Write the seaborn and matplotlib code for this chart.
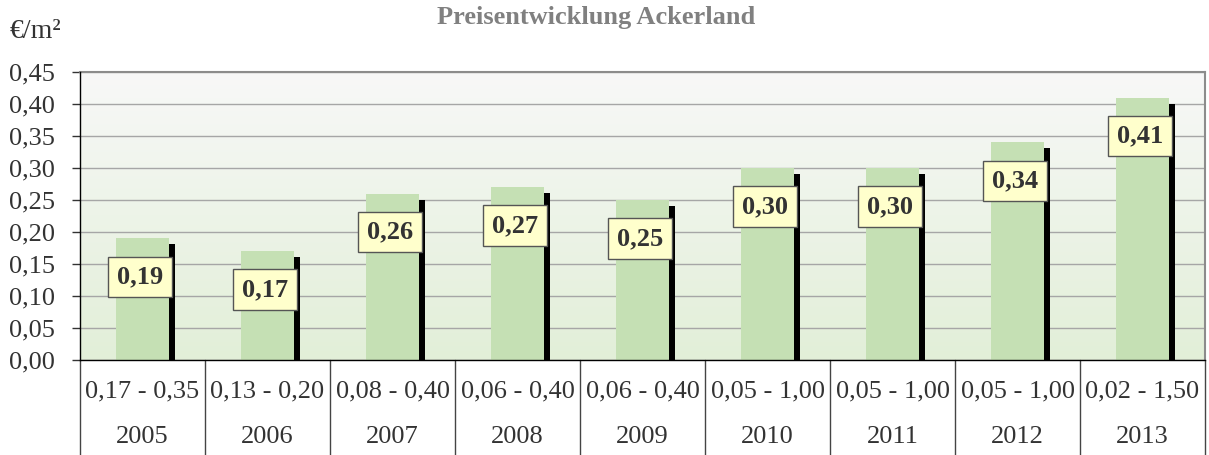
import numpy as np
import pandas as pd
import matplotlib
matplotlib.use("Agg")
import matplotlib.pyplot as plt
import matplotlib.patheffects as pe
from matplotlib.colors import LinearSegmentedColormap
import seaborn as sns

years = ['2005', '2006', '2007', '2008', '2009', '2010', '2011', '2012', '2013']
ranges = ['0,17 - 0,35', '0,13 - 0,20', '0,08 - 0,40', '0,06 - 0,40', '0,06 - 0,40',
          '0,05 - 1,00', '0,05 - 1,00', '0,05 - 1,00', '0,02 - 1,50']
prices = [0.19, 0.17, 0.26, 0.27, 0.25, 0.30, 0.30, 0.34, 0.41]

df = pd.DataFrame({'Jahr': years, 'Preis': prices})

sns.set_style("white")
plt.rcParams['font.family'] = ['Liberation Serif', 'DejaVu Serif']

fig = plt.figure(figsize=(12.09, 4.55), dpi=100)
ax = fig.add_axes([0.0662, 0.2088, 0.9305, 0.633])

# gradient background of the plot area (light grey on top, pale green below)
cmap = LinearSegmentedColormap.from_list('bg', ['#f8f8f8', '#e2efd8'])
grad = np.linspace(0, 1, 256).reshape(-1, 1)
ax.imshow(grad, cmap=cmap, aspect='auto', origin='upper',
          extent=[-0.5, 8.5, 0, 0.45], zorder=0)

sns.barplot(data=df, x='Jahr', y='Preis', color='#c5e0b4', width=0.42,
            saturation=1, ax=ax, zorder=3, edgecolor='none', linewidth=0)
for p in ax.patches:
    p.set_path_effects([pe.SimplePatchShadow(offset=(4.2, -4.3),
                                             shadow_rgbFace='black', alpha=1),
                        pe.Normal()])

ax.set_xlim(-0.5, 8.5)
ax.set_ylim(0, 0.45)
ticks = np.arange(0, 0.451, 0.05)
ax.set_yticks(ticks)
ax.set_yticklabels([f"{v:.2f}".replace('.', ',') for v in ticks],
                   fontsize=19, color='#333333')
ax.yaxis.grid(True, color='#a6a6a6', linewidth=1)
for line in ax.get_ygridlines():
    line.set_zorder(1)
ax.tick_params(axis='y', length=6, width=1, pad=12, left=True, color='#333333')
ax.set_xticks([])
ax.set_xlabel('')
ax.set_ylabel('')

for s in ['top', 'right']:
    ax.spines[s].set_color('#8c8c8c')
    ax.spines[s].set_linewidth(1.5)
for s in ['left', 'bottom']:
    ax.spines[s].set_color('black')
    ax.spines[s].set_linewidth(1)
    ax.spines[s].set_zorder(6)

# value labels
for i, v in enumerate(prices):
    ax.text(i - 0.02, v - 0.06, f"{v:.2f}".replace('.', ','), ha='center', va='center',
            fontsize=19, fontweight='bold', color='#333333', zorder=5,
            bbox=dict(boxstyle='square,pad=0.33', facecolor='#ffffcc',
                      edgecolor='#555555', linewidth=1))

# data table below the axis
tr = ax.get_xaxis_transform()
for i in range(len(years)):
    ax.text(i, -0.108, ranges[i], transform=tr, ha='center', va='center',
            fontsize=19, color='#333333', clip_on=False)
    ax.text(i, -0.267, years[i], transform=tr, ha='center', va='center',
            fontsize=19, color='#333333', clip_on=False)
for b in np.arange(-0.5, 9.0, 1.0):
    ax.plot([b, b], [0, -0.34], transform=tr, color='#444444',
            linewidth=1, clip_on=False)

fig.text(0.493, 0.962, 'Preisentwicklung Ackerland', ha='center', va='center',
         fontsize=19, fontweight='bold', color='#808080')
fig.text(0.008, 0.93, '€/m²', ha='left', va='center', fontsize=20, color='#333333')

fig.savefig('out.png', dpi=100)
